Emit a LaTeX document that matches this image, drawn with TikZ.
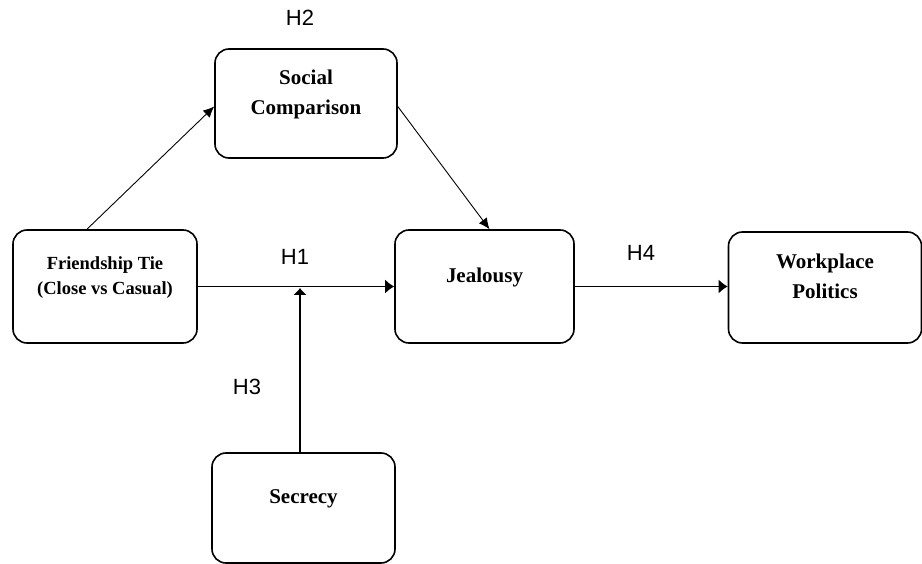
\documentclass[tikz,border=0pt]{standalone}
\usepackage{fontspec}
\setmainfont{Liberation Serif}
\setsansfont{Liberation Sans}
\usetikzlibrary{arrows.meta}

\begin{document}
\begin{tikzpicture}[x=1pt,y=-1pt,>={Latex[length=9pt,width=14pt]},
        box/.style={draw,line width=1.6pt,rounded corners=14pt,align=center,
            font=\fontsize{21}{30}\selectfont\bfseries,text depth=22pt},
        hyp/.style={font=\sffamily\fontsize{22}{22}\selectfont},
        link/.style={->,line width=1.3pt},
        slant/.style={-{Latex[length=11pt,width=10pt]},line width=0.9pt}]
        \useasboundingbox (0,0) rectangle (922,564);

        % draw the five constructs
        \node[box,minimum width=184pt,minimum height=113pt,
              font=\fontsize{18.5}{25}\selectfont\bfseries] (fr) at (105,286.5)
              {Friendship Tie\\(Close vs Casual)};
        \node[box,minimum width=182pt,minimum height=109pt] (sc) at (306,103.5)
              {Social\\Comparison};
        \node[box,minimum width=179pt,minimum height=113pt] (je) at (484.5,286.5)
              {Jealousy};
        \node[box,minimum width=193pt,minimum height=111pt] (wp) at (825,287.5)
              {Workplace\\Politics};
        \node[box,minimum width=183pt,minimum height=110pt] (se) at (303.5,508)
              {Secrecy};

        % point where secrecy meets the main path
        \coordinate (mid) at (300,288);

        % draw the paths
        \draw[link] (fr.east) -- (je.west);
        \draw[link] (je.east) -- (je.east -| wp.west);
        \draw[slant] ([xshift=-18pt]fr.north) -- ([yshift=-3pt]sc.west);
        \draw[slant] ([yshift=-3pt]sc.east) -- ([xshift=5pt]je.north);
        \draw[-{Latex[length=7pt,width=14pt]},line width=1.3pt] (mid |- se.north) -- (mid);

        % hypothesis labels
        \node[hyp] (h1) at (295,257) {H1};
        \node[hyp] (h2) at (300,18) {H2};
        \node[hyp] (h3) at (247,387) {H3};
        \node[hyp] (h4) at (641,253) {H4};
\end{tikzpicture}
\end{document}
